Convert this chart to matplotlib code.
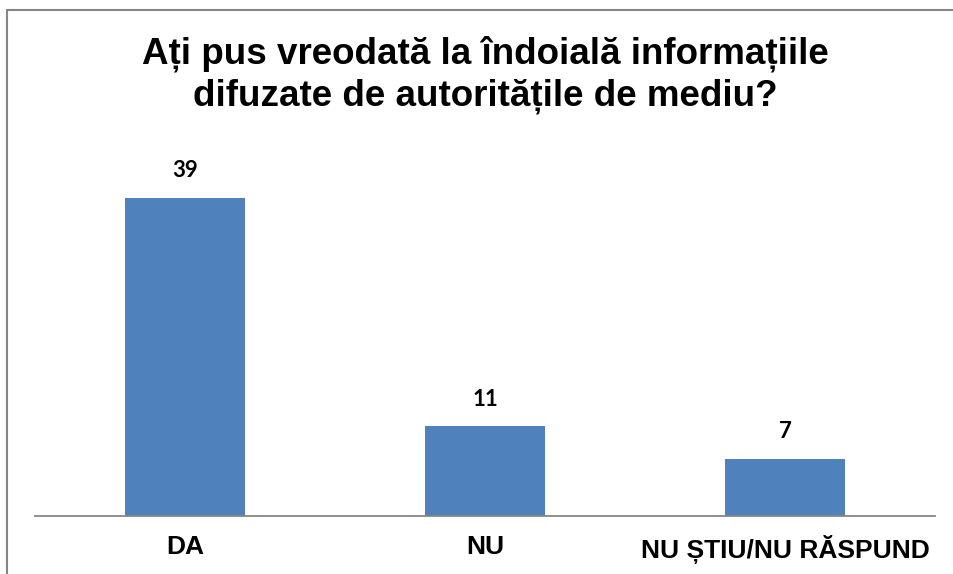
import matplotlib
matplotlib.use("Agg")
import matplotlib.pyplot as plt
from matplotlib.patches import Rectangle

# Raspunsuri la intrebarea despre autoritatile de mediu
categorii = ["DA", "NU", "NU ȘTIU/NU RĂSPUND"]
valori = [39, 11, 7]
titlu = ["Ați pus vreodată la îndoială informațiile",
         "difuzate de autoritățile de mediu?"]

W, H = 954, 574
fig = plt.figure(figsize=(W / 100, H / 100), dpi=100)
ax = fig.add_axes([35 / W, 58 / H, 900 / W, 367 / H])

x = range(len(categorii))
ax.bar(x, valori, width=0.4, color="#4F81BD")
ax.set_xlim(-0.5, 2.5)
ax.set_ylim(0, 45)

for i, v in enumerate(valori):
    ax.annotate(str(v), (i, v), xytext=(0, 27), textcoords="offset pixels",
                ha="center", va="center", fontsize=16, fontweight="bold",
                family="Lato")

ax.set_xticks(list(x))
ax.set_xticklabels(categorii, fontsize=19, fontweight="bold",
                   family="Liberation Sans")
ax.tick_params(axis="x", length=0, pad=14)
ax.set_yticks([])
for s in ("left", "right", "top"):
    ax.spines[s].set_visible(False)
ax.spines["bottom"].set_color("#868686")
ax.spines["bottom"].set_linewidth(1.3)

fig.text(485 / W, 1 - 64 / H, titlu[0], ha="center", va="baseline",
         fontsize=26.5, fontweight="bold", family="Liberation Sans")
fig.text(485 / W, 1 - 106 / H, titlu[1], ha="center", va="baseline",
         fontsize=26.5, fontweight="bold", family="Liberation Sans")

# chenarul graficului (iese din imagine la dreapta si jos)
fig.patches.append(Rectangle((7 / W, -0.1), 2, 1.1 - 10 / H,
                             transform=fig.transFigure, fill=False,
                             edgecolor="#868686", linewidth=1.5))

fig.savefig("out.png", dpi=100)
